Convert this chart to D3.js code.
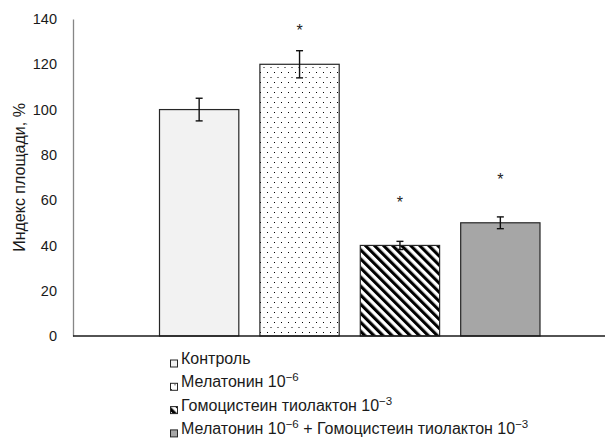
<!DOCTYPE html>
<html>
<head>
<meta charset="utf-8">
<script src="https://cdn.jsdelivr.net/npm/d3@7"></script>
<style>
  html, body { margin: 0; padding: 0; background: #fff; }
  svg { display: block; font-family: "Liberation Sans", Arial, sans-serif; }
</style>
</head>
<body>
<svg id="chart" width="608" height="443"></svg>
<script>
// Series (one bar per treatment group)
const seriesKeys = ["control", "mel", "hcy", "melhcy"];
const values = [100, 120, 40, 50];
const errors = [5, 6, 1.8, 2.6];
const starValues = [null, 138, 62, 72];
const yTicks = [0, 20, 40, 60, 80, 100, 120, 140];
const yTitle = "Индекс площади, %";
// Legend labels: [main text, superscript] pairs
const legendParts = [
  [["Контроль", null]],
  [["Мелатонин 10", "−6"]],
  [["Гомоцистеин тиолактон 10", "−3"]],
  [["Мелатонин 10", "−6"], [" + Гомоцистеин тиолактон 10", "−3"]]
];
const fills = ["#f2f2f2", "url(#dots)", "url(#hatch)", "#a6a6a6"];

const svg = d3.select("#chart");
const defs = svg.append("defs");

// dotted fill
const dots = defs.append("pattern").attr("id", "dots")
  .attr("patternUnits", "userSpaceOnUse").attr("width", 7).attr("height", 10);
dots.append("rect").attr("width", 7).attr("height", 10).attr("fill", "#fff");
dots.append("rect").attr("x", 1).attr("y", 2).attr("width", 1).attr("height", 1).attr("fill", "#000");
dots.append("rect").attr("x", 4.5).attr("y", 7).attr("width", 1).attr("height", 1).attr("fill", "#000");

// wide diagonal hatch (top-left to bottom-right)
const hatch = defs.append("pattern").attr("id", "hatch")
  .attr("patternUnits", "userSpaceOnUse").attr("width", 6.4).attr("height", 6.4)
  .attr("patternTransform", "rotate(-45)");
hatch.append("rect").attr("width", 6.4).attr("height", 6.4).attr("fill", "#fff");
hatch.append("rect").attr("x", 0).attr("y", 0).attr("width", 3.1).attr("height", 6.4).attr("fill", "#000");

const plotLeft = 73, plotRight = 605, plotTop = 19, plotBottom = 336;

const y = d3.scaleLinear().domain([0, 140]).range([plotBottom, plotTop]);
const x = d3.scaleBand().domain(seriesKeys).range([159.5, 540]).paddingInner(0.21);

// y axis
const yAxis = svg.append("g").attr("transform", `translate(${plotLeft},0)`)
  .call(d3.axisLeft(y).tickValues(yTicks).tickSize(0).tickPadding(16).tickFormat(d3.format("d")));
yAxis.select(".domain").attr("stroke", "#868686").attr("stroke-width", 1.3);
yAxis.selectAll("text").attr("font-size", 14.5).attr("fill", "#1a1a1a")
  .attr("font-family", "Liberation Sans, Arial, sans-serif");

svg.append("text")
  .attr("transform", `translate(19,${(plotTop + plotBottom) / 2}) rotate(-90)`)
  .attr("text-anchor", "middle").attr("dominant-baseline", "central")
  .attr("font-size", 16).attr("fill", "#1a1a1a").text(yTitle);

// bars
svg.append("g").selectAll("rect").data(seriesKeys).join("rect")
  .attr("x", d => x(d)).attr("width", x.bandwidth())
  .attr("y", (d, i) => y(values[i])).attr("height", (d, i) => y(0) - y(values[i]))
  .attr("fill", (d, i) => fills[i]).attr("stroke", "#262626").attr("stroke-width", 1.2);

// baseline
svg.append("line").attr("x1", plotLeft).attr("x2", plotRight)
  .attr("y1", y(0)).attr("y2", y(0)).attr("stroke", "#1a1a1a").attr("stroke-width", 1.3);

// error bars
const eb = svg.append("g").attr("stroke", "#111").attr("stroke-width", 1.4);
seriesKeys.forEach((k, i) => {
  const cx = x(k) + x.bandwidth() / 2;
  const y1 = y(values[i] + errors[i]), y2 = y(values[i] - errors[i]);
  eb.append("line").attr("x1", cx).attr("x2", cx).attr("y1", y1).attr("y2", y2);
  eb.append("line").attr("x1", cx - 3.5).attr("x2", cx + 3.5).attr("y1", y1).attr("y2", y1);
  eb.append("line").attr("x1", cx - 3.5).attr("x2", cx + 3.5).attr("y1", y2).attr("y2", y2);
});

// significance marks
seriesKeys.forEach((k, i) => {
  if (starValues[i] == null) return;
  svg.append("text").attr("x", x(k) + x.bandwidth() / 2).attr("y", y(starValues[i]))
    .attr("dy", "0.75em").attr("text-anchor", "middle")
    .attr("font-size", 16).attr("fill", "#222").text("*");
});

// legend
const legend = svg.append("g").attr("transform", "translate(170,364)");
legendParts.forEach((parts, i) => {
  const g = legend.append("g").attr("transform", `translate(0,${i * 23.3})`);
  g.append("rect").attr("x", 0.5).attr("y", -4).attr("width", 7).attr("height", 7)
    .attr("fill", fills[i]).attr("stroke", "#262626").attr("stroke-width", 1);
  const t = g.append("text").attr("x", 11).attr("y", 0).attr("dy", "0.35em")
    .attr("font-size", 16).attr("fill", "#1a1a1a");
  let raised = false;
  parts.forEach(([main, sup]) => {
    t.append("tspan").attr("font-size", 16).attr("dy", raised ? 6 : 0).text(main);
    raised = false;
    if (sup) {
      t.append("tspan").attr("font-size", 11.5).attr("dy", -6).text(sup);
      raised = true;
    }
  });
});
</script>
</body>
</html>
